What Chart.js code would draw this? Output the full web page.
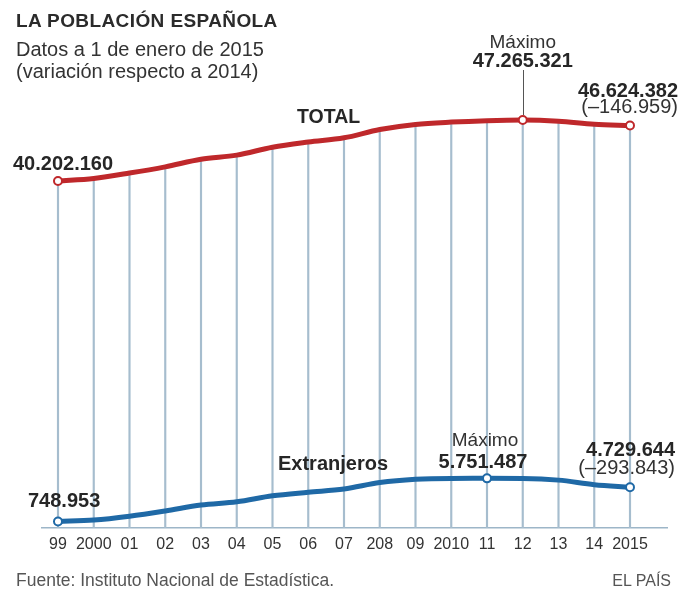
<!DOCTYPE html>
<html>
<head>
<meta charset="utf-8">
<script src="https://cdn.jsdelivr.net/npm/chart.js@4"></script>
<style>
  html, body { margin: 0; padding: 0; background: #fff; }
  #wrap { position: relative; width: 683px; height: 594px; overflow: hidden; font-family: "Liberation Sans", Arial, sans-serif; }
  #c { position: absolute; left: 0; top: 0; }
  .t { position: absolute; white-space: nowrap; line-height: 1; }
  #title { left: 16px; top: 11px; font-size: 19px; font-weight: bold; color: #2b2b2b; letter-spacing: 0.4px; }
  #sub1 { left: 16px; top: 38.5px; font-size: 20px; color: #333; }
  #sub2 { left: 16px; top: 60.5px; font-size: 20px; color: #333; }
  #src { left: 16px; top: 572px; font-size: 17.5px; color: #555; }
  #brand { right: 12px; top: 573px; font-size: 16px; color: #555; }
</style>
</head>
<body>
<div id="wrap">
  <canvas id="c" width="683" height="594"></canvas>
  <div class="t" id="title">LA POBLACIÓN ESPAÑOLA</div>
  <div class="t" id="sub1">Datos a 1 de enero de 2015</div>
  <div class="t" id="sub2">(variación respecto a 2014)</div>
  <div class="t" id="src">Fuente: Instituto Nacional de Estadística.</div>
  <div class="t" id="brand">EL PAÍS</div>
</div>
<script>
// ---- data ----
const years = [1999, 2000, 2001, 2002, 2003, 2004, 2005, 2006, 2007, 2008, 2009, 2010, 2011, 2012, 2013, 2014, 2015];
const tickLabels = ['99', '2000', '01', '02', '03', '04', '05', '06', '07', '208', '09', '2010', '11', '12', '13', '14', '2015'];
const total = [40202160, 40499791, 41116842, 41837894, 42717064, 43197684, 44108530, 44708964, 45200737, 46157822, 46745807, 47021031, 47190493, 47265321, 47129783, 46771341, 46624382];
const foreigners = [748953, 923879, 1370657, 1977946, 2664168, 3034326, 3730610, 4144166, 4519554, 5268762, 5648671, 5747734, 5751487, 5736258, 5546238, 5023487, 4729644];
const totalMarked = [0, 13, 16];
const foreignMarked = [0, 12, 16];
const totalTexts = { first: '40.202.160', maxLabel: 'Máximo', max: '47.265.321', last: '46.624.382', change: '(–146.959)', name: 'TOTAL' };
const foreignTexts = { first: '748.953', maxLabel: 'Máximo', max: '5.751.487', last: '4.729.644', change: '(–293.843)', name: 'Extranjeros' };

const RED = '#bf282b';
const BLUE = '#1f69a6';
const GRID = '#a6bdce';
const TXT = '#262626';
const FONT = '"Liberation Sans", Arial, sans-serif';

const pts = (vals) => years.map((y, i) => ({ x: y, y: vals[i] }));

const annot = {
  id: 'annot',
  afterDatasetsDraw(chart) {
    const ctx = chart.ctx;
    const xs = chart.scales.x, ys = chart.scales.y;
    const P = (i, arr) => ({ x: xs.getPixelForValue(years[i]), y: ys.getPixelForValue(arr[i]) });
    ctx.save();
    ctx.textBaseline = 'alphabetic';
    const txt = (s, x, y, bold, align, color, size) => {
      ctx.font = (bold ? 'bold ' : '') + (size || 20) + 'px ' + FONT;
      ctx.textAlign = align || 'left';
      ctx.fillStyle = color || TXT;
      ctx.fillText(s, x, y);
    };
    // TOTAL
    const t0 = P(0, total), tM = P(13, total);
    ctx.strokeStyle = '#555';
    ctx.lineWidth = 1;
    ctx.beginPath();
    ctx.moveTo(Math.round(tM.x) + 0.5, tM.y - 5);
    ctx.lineTo(Math.round(tM.x) + 0.5, 70);
    ctx.stroke();
    txt(totalTexts.first, 13, t0.y - 11, true);
    txt(totalTexts.maxLabel, tM.x, 48, false, 'center', '#333', 19);
    txt(totalTexts.max, tM.x, 67, true, 'center');
    txt(totalTexts.last, 678, 96.5, true, 'right');
    txt(totalTexts.change, 678, 113, false, 'right', '#333');
    txt(totalTexts.name, 297, 123, true, 'left', TXT, 19.5);
    // EXTRANJEROS
    const f0 = P(0, foreigners), fM = P(12, foreigners);
    txt(foreignTexts.first, 28, f0.y - 15, true);
    txt(foreignTexts.maxLabel, fM.x - 2, 446, false, 'center', '#333', 19);
    txt(foreignTexts.max, fM.x - 4, 468, true, 'center');
    txt(foreignTexts.last, 675, 456, true, 'right');
    txt(foreignTexts.change, 675, 474, false, 'right', '#333');
    txt(foreignTexts.name, 278, 470, true);
    ctx.restore();
  }
};

new Chart(document.getElementById('c'), {
  data: {
    datasets: [
      {
        type: 'line', data: pts(total), borderColor: RED, borderWidth: 5,
        cubicInterpolationMode: 'monotone',
        pointRadius: (c) => totalMarked.includes(c.dataIndex) ? 4 : 0,
        pointBackgroundColor: '#fff', pointBorderColor: RED, pointBorderWidth: 2,
        order: 1
      },
      {
        type: 'line', data: pts(foreigners), borderColor: BLUE, borderWidth: 5,
        cubicInterpolationMode: 'monotone',
        pointRadius: (c) => foreignMarked.includes(c.dataIndex) ? 4 : 0,
        pointBackgroundColor: '#fff', pointBorderColor: BLUE, pointBorderWidth: 2,
        order: 0
      },
      {
        type: 'bar', data: pts(total), backgroundColor: GRID, barThickness: 1.5,
        grouped: false, order: 10
      }
    ]
  },
  options: {
    responsive: false,
    animation: false,
    devicePixelRatio: 1,
    events: [],
    layout: { padding: { left: 42, right: 16, top: 96.4, bottom: 32.8 } },
    plugins: { legend: { display: false }, tooltip: { enabled: false }, title: { display: false } },
    scales: {
      x: {
        type: 'linear',
        offset: false,
        min: 1998.5524, max: 2016.035,
        grid: { display: false, drawTicks: false, offset: false },
        border: { display: true, color: '#9db6c8', width: 1.5 },
        afterBuildTicks: (axis) => { axis.ticks = years.map(v => ({ value: v })); },
        ticks: {
          autoSkip: false, maxRotation: 0, padding: 7,
          color: '#333', font: { family: FONT, size: 16 },
          callback: (v, i) => tickLabels[i]
        }
      },
      y: { display: false, min: 0, max: 50000000 }
    }
  },
  plugins: [annot]
});
</script>
</body>
</html>
